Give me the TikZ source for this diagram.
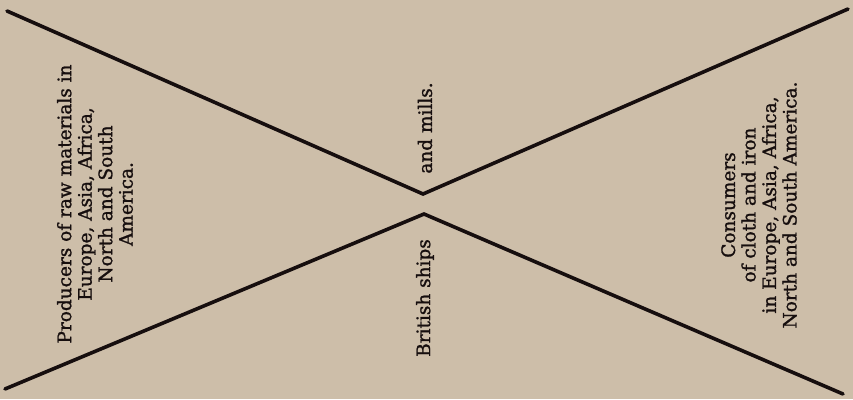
\documentclass[tikz,border=0pt]{standalone}
\usepackage{fontspec}
\setmainfont{DejaVu Serif}[BoldFont={DejaVu Serif},BoldFeatures={FakeBold=1.3}]
\definecolor{paper}{RGB}{205,190,169}
\definecolor{ink}{RGB}{22,14,14}
\tikzset{
  rule/.style={draw=ink, line width=3.6pt, line cap=round, line join=miter},
  label/.style={rotate=90, align=center, text=ink, inner sep=0pt,
    font=\fontsize{18.5}{20.5}\selectfont\bfseries}
}
\begin{document}
\begin{tikzpicture}[x=1pt,y=-1pt]
\fill[paper] (0,0) rectangle (853,399);
\useasboundingbox (0,0) rectangle (853,399);
\coordinate (tl) at (7,11);
\coordinate (tv) at (423,194);
\coordinate (tr) at (848,9);
\coordinate (bl) at (5,389);
\coordinate (bv) at (424,214);
\coordinate (br) at (843,394);
\draw[rule] (tl) -- (tv) -- (tr);
\draw[rule] (bl) -- (bv) -- (br);
\node[label] (producers) at (95,204) {Producers of raw materials in\\Europe, Asia, Africa,\\North and South\\America.};
\node[label] (mills) at (425,128) {and mills.};
\node[label] (ships) at (425,298) {British ships};
\node[label] (consumers) at (759,205) {Consumers\\of cloth and iron\\in Europe, Asia, Africa,\\North and South America.};
\end{tikzpicture}
\end{document}
